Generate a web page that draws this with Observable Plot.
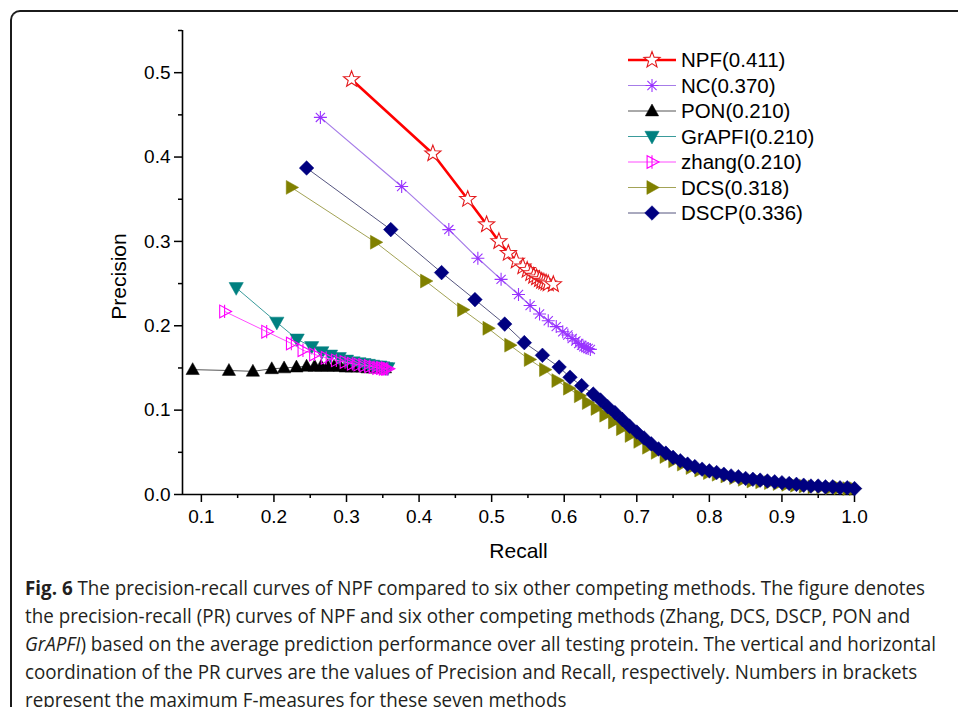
<!DOCTYPE html>
<html><head><meta charset="utf-8">
<script src="https://cdn.jsdelivr.net/npm/d3@7"></script>
<script src="https://cdn.jsdelivr.net/npm/@observablehq/plot@0.6"></script>
<style>
html,body{margin:0;padding:0;background:#fff;width:958px;height:707px;overflow:hidden;position:relative;}
#box{position:absolute;left:10px;top:10px;width:1100px;height:900px;border-left:2px solid #1b1b1b;border-top:2px solid #1b1b1b;border-top-left-radius:10px;box-sizing:border-box;}
#chart{position:absolute;left:0;top:0;}
#legend{position:absolute;left:0;top:0;pointer-events:none;}
#caption{position:absolute;left:25px;top:574px;font-family:"Open Sans",sans-serif;font-size:19.5px;line-height:28px;color:#231f20;transform-origin:0 0;white-space:nowrap;}
#caption div{height:28px;}
</style></head>
<body>
<div id="box"></div>
<div id="chart"></div>
<svg id="legend" width="958" height="240"></svg>
<div id="caption">
<div id="cap1"><b>Fig. 6</b> The precision-recall curves of NPF compared to six other competing methods. The figure denotes</div>
<div>the precision-recall (PR) curves of NPF and six other competing methods (Zhang, DCS, DSCP, PON and</div>
<div><i>GrAPFI</i>) based on the average prediction performance over all testing protein. The vertical and horizontal</div>
<div>coordination of the PR curves are the values of Precision and Recall, respectively. Numbers in brackets</div>
<div>represent the maximum F-measures for these seven methods</div>
</div>
<script>
// ---------- axes ----------
const xDomain = [0.074, 1.0];
const yDomain = [0, 0.55];
const xTicks = [0.1, 0.2, 0.3, 0.4, 0.5, 0.6, 0.7, 0.8, 0.9, 1.0];
const xMinor = [0.15, 0.25, 0.35, 0.45, 0.55, 0.65, 0.75, 0.85, 0.95];
const yTicks = [0.0, 0.1, 0.2, 0.3, 0.4, 0.5];
const yMinor = [0.05, 0.15, 0.25, 0.35, 0.45, 0.55];
const xLabel = "Recall";
const yLabel = "Precision";

// ---------- series ----------
const seriesNames = ["NPF", "NC", "PON", "GrAPFI", "zhang", "DCS", "DSCP"];
const fMeasures = ["0.411", "0.370", "0.210", "0.210", "0.210", "0.318", "0.336"];

const npfRecall = [0.307, 0.419, 0.467, 0.493, 0.510, 0.523, 0.534, 0.543, 0.549, 0.554, 0.558, 0.562, 0.566, 0.569, 0.572, 0.575, 0.578, 0.585];
const npfPrecision = [0.492, 0.404, 0.350, 0.320, 0.300, 0.286, 0.277, 0.270, 0.266, 0.262, 0.259, 0.257, 0.255, 0.253, 0.252, 0.251, 0.250, 0.249];

const ncRecall = [0.264, 0.376, 0.441, 0.481, 0.513, 0.537, 0.553, 0.566, 0.578, 0.589, 0.598, 0.605, 0.611, 0.616, 0.620, 0.624, 0.627, 0.630, 0.633, 0.636];
const ncPrecision = [0.447, 0.365, 0.314, 0.280, 0.255, 0.237, 0.224, 0.214, 0.206, 0.199, 0.193, 0.189, 0.185, 0.182, 0.179, 0.177, 0.175, 0.174, 0.173, 0.172];

const ponRecall = [0.088, 0.138, 0.171, 0.197, 0.214, 0.231, 0.245, 0.256, 0.265, 0.274, 0.283, 0.291, 0.299, 0.307, 0.315, 0.322, 0.329, 0.336, 0.342, 0.348, 0.353];
const ponPrecision = [0.148, 0.147, 0.146, 0.149, 0.150, 0.151, 0.152, 0.152, 0.152, 0.152, 0.152, 0.152, 0.151, 0.151, 0.151, 0.151, 0.150, 0.150, 0.150, 0.150, 0.150];

const grapfiRecall = [0.148, 0.204, 0.232, 0.252, 0.266, 0.278, 0.290, 0.300, 0.309, 0.317, 0.324, 0.330, 0.336, 0.341, 0.346, 0.350, 0.354, 0.357];
const grapfiPrecision = [0.245, 0.204, 0.184, 0.175, 0.169, 0.165, 0.162, 0.159, 0.157, 0.156, 0.155, 0.154, 0.153, 0.152, 0.152, 0.151, 0.150, 0.150];

const zhangRecall = [0.132, 0.190, 0.224, 0.240, 0.256, 0.272, 0.286, 0.298, 0.308, 0.317, 0.325, 0.332, 0.338, 0.343, 0.348, 0.352, 0.355, 0.357];
const zhangPrecision = [0.217, 0.193, 0.179, 0.171, 0.166, 0.162, 0.159, 0.157, 0.155, 0.154, 0.153, 0.152, 0.151, 0.150, 0.150, 0.149, 0.149, 0.149];

const dcsRecall = [0.224, 0.340, 0.409, 0.460, 0.495, 0.525, 0.552, 0.573, 0.590, 0.606, 0.621, 0.632, 0.644, 0.656, 0.668, 0.679, 0.691, 0.703, 0.715, 0.727, 0.739, 0.751, 0.763, 0.775, 0.787, 0.799, 0.811, 0.823, 0.835, 0.847, 0.859, 0.871, 0.883, 0.895, 0.907, 0.919, 0.931, 0.943, 0.955, 0.967, 0.979, 0.991, 1.000];
const dcsPrecision = [0.364, 0.299, 0.253, 0.219, 0.197, 0.177, 0.160, 0.148, 0.135, 0.126, 0.117, 0.109, 0.102, 0.094, 0.086, 0.078, 0.070, 0.063, 0.056, 0.050, 0.045, 0.040, 0.036, 0.032, 0.029, 0.026, 0.024, 0.022, 0.020, 0.018, 0.016, 0.015, 0.014, 0.013, 0.012, 0.011, 0.010, 0.009, 0.009, 0.008, 0.008, 0.007, 0.007];

const dscpRecall = [0.245, 0.361, 0.431, 0.477, 0.518, 0.545, 0.570, 0.593, 0.608, 0.624, 0.640, 0.650, 0.660, 0.670, 0.680, 0.690, 0.700, 0.710, 0.720, 0.730, 0.740, 0.750, 0.760, 0.770, 0.780, 0.790, 0.800, 0.810, 0.820, 0.830, 0.840, 0.850, 0.860, 0.870, 0.880, 0.890, 0.900, 0.910, 0.920, 0.930, 0.940, 0.950, 0.960, 0.970, 0.980, 0.990, 1.000];
const dscpPrecision = [0.387, 0.314, 0.263, 0.231, 0.202, 0.180, 0.165, 0.151, 0.139, 0.129, 0.119, 0.112, 0.104, 0.097, 0.089, 0.081, 0.074, 0.067, 0.060, 0.054, 0.049, 0.044, 0.040, 0.036, 0.033, 0.030, 0.028, 0.026, 0.024, 0.022, 0.021, 0.019, 0.018, 0.017, 0.016, 0.015, 0.014, 0.013, 0.012, 0.011, 0.010, 0.010, 0.009, 0.009, 0.008, 0.008, 0.007];

const seriesRecall = [npfRecall, ncRecall, ponRecall, grapfiRecall, zhangRecall, dcsRecall, dscpRecall];
const seriesPrecision = [npfPrecision, ncPrecision, ponPrecision, grapfiPrecision, zhangPrecision, dcsPrecision, dscpPrecision];

// ---------- symbols ----------
const mk = fn => ({draw(ctx, size) { const r = Math.sqrt(size / Math.PI); fn(ctx, r); }});
const starSym = mk((c, r) => {
  const ri = r * 0.42;
  for (let i = 0; i < 10; i++) {
    const a = -Math.PI / 2 + i * Math.PI / 5, rr = i % 2 ? ri : r;
    const px = rr * Math.cos(a), py = rr * Math.sin(a);
    i ? c.lineTo(px, py) : c.moveTo(px, py);
  }
  c.closePath();
});
const asteriskSym = mk((c, r) => {
  for (let i = 0; i < 4; i++) {
    const a = i * Math.PI / 4;
    c.moveTo(r * Math.cos(a), r * Math.sin(a));
    c.lineTo(-r * Math.cos(a), -r * Math.sin(a));
  }
  c.moveTo(1, 0); c.arc(0, 0, 1, 0, 2 * Math.PI);
});
const triUp = mk((c, r) => { c.moveTo(0, -r); c.lineTo(0.95 * r, 0.7 * r); c.lineTo(-0.95 * r, 0.7 * r); c.closePath(); });
const triDown = mk((c, r) => { c.moveTo(0, r); c.lineTo(0.95 * r, -0.7 * r); c.lineTo(-0.95 * r, -0.7 * r); c.closePath(); });
const triRight = mk((c, r) => { c.moveTo(r, 0); c.lineTo(-0.7 * r, -0.95 * r); c.lineTo(-0.7 * r, 0.95 * r); c.closePath(); });
const zhangSym = mk((c, r) => {
  c.moveTo(r, 0); c.lineTo(-0.7 * r, -0.9 * r); c.lineTo(-0.7 * r, 0.9 * r); c.closePath();
  c.moveTo(0, -0.95 * r); c.lineTo(0, 0.95 * r);
});
const diamondSym = mk((c, r) => { c.moveTo(0, -r); c.lineTo(r, 0); c.lineTo(0, r); c.lineTo(-r, 0); c.closePath(); });

const styles = {
  NPF:    {line: "#ff0000", lw: 2.6, symbol: starSym,     r: 8.5, fill: "#ffffff", stroke: "#e3191c", sw: 1.1},
  NC:     {line: "#a67ce8", lw: 1.2, symbol: asteriskSym, r: 6.5, fill: "none",    stroke: "#9933ff", sw: 1.1},
  PON:    {line: "#555555", lw: 1.0, symbol: triUp,       r: 7,   fill: "#000000", stroke: "#000000", sw: 0.5},
  GrAPFI: {line: "#3a9b9b", lw: 1.0, symbol: triDown,     r: 7.5, fill: "#008080", stroke: "#008080", sw: 0.5},
  zhang:  {line: "#ff4dff", lw: 1.0, symbol: zhangSym,    r: 7,   fill: "none",    stroke: "#ff00ff", sw: 1.1},
  DCS:    {line: "#a3a356", lw: 1.0, symbol: triRight,    r: 7.3, fill: "#808000", stroke: "#808000", sw: 0.5},
  DSCP:   {line: "#55557f", lw: 1.0, symbol: diamondSym,  r: 7.3, fill: "#000080", stroke: "#000080", sw: 0.5}
};

// ---------- build ----------
const marks = [];
seriesNames.forEach((name, i) => {
  const rows = seriesRecall[i].map((r, j) => ({recall: r, precision: seriesPrecision[i][j], series: name}));
  const s = styles[name];
  marks.push(Plot.line(rows, {x: "recall", y: "precision", stroke: s.line, strokeWidth: s.lw}));
  marks.push(Plot.dot(rows, {x: "recall", y: "precision", symbol: () => s.symbol, r: s.r, fill: s.fill, stroke: s.stroke, strokeWidth: s.sw}));
});

const chart = Plot.plot({
  width: 958,
  height: 565,
  marginLeft: 182,
  marginRight: 104,
  marginTop: 30,
  marginBottom: 71,
  style: {fontFamily: "'Liberation Sans', Arial, sans-serif", fontSize: "19px", color: "#000", background: "transparent", overflow: "visible"},
  x: {domain: xDomain},
  y: {domain: yDomain},
  symbol: {type: "identity"},
  marks: [
    Plot.axisX({ticks: xTicks, tickSize: 8, tickPadding: 7, tickFormat: d3.format(".1f"), label: null, strokeWidth: 1.5}),
    Plot.axisX({ticks: xMinor, tickSize: 4, tickFormat: () => "", label: null, strokeWidth: 1.5}),
    Plot.axisY({ticks: yTicks, tickSize: 8, tickPadding: 4, tickFormat: d3.format(".1f"), label: null, strokeWidth: 1.5}),
    Plot.axisY({ticks: yMinor, tickSize: 4, tickFormat: () => "", label: null, strokeWidth: 1.5}),
    Plot.ruleY([yDomain[0]], {strokeWidth: 1.6}),
    Plot.ruleX([xDomain[0]], {strokeWidth: 1.6}),
    Plot.text([xLabel], {frameAnchor: "bottom", dy: 57, textAnchor: "middle", lineAnchor: "middle", fontSize: 21}),
    Plot.text([yLabel], {frameAnchor: "left", dx: -63, dy: 14, textAnchor: "middle", lineAnchor: "middle", rotate: -90, fontSize: 21}),
    ...marks
  ]
});
document.getElementById("chart").append(chart);

// ---------- legend ----------
const lg = d3.select("#legend");
const rowY0 = 60, rowStep = 25.5;
seriesNames.forEach((name, i) => {
  const s = styles[name];
  const y = rowY0 + i * rowStep;
  lg.append("line").attr("x1", 628).attr("x2", 676).attr("y1", y).attr("y2", y)
    .attr("stroke", s.line).attr("stroke-width", s.lw);
  lg.append("path").attr("transform", `translate(652,${y})`)
    .attr("d", d3.symbol(s.symbol, s.r * s.r * Math.PI)())
    .attr("fill", s.fill).attr("stroke", s.stroke).attr("stroke-width", s.sw);
  lg.append("text").attr("x", 681).attr("y", y).attr("dy", "0.35em")
    .attr("font-family", "'Liberation Sans', Arial, sans-serif").attr("font-size", 20.5)
    .text(`${name}(${fMeasures[i]})`);
});

// ---------- caption fit ----------
const cap = document.getElementById("caption");
const line1 = document.getElementById("cap1");
const range = document.createRange(); range.selectNodeContents(line1);
const natural = range.getBoundingClientRect().width;
cap.style.transform = `scaleX(${900 / natural})`;
</script>
</body></html>
